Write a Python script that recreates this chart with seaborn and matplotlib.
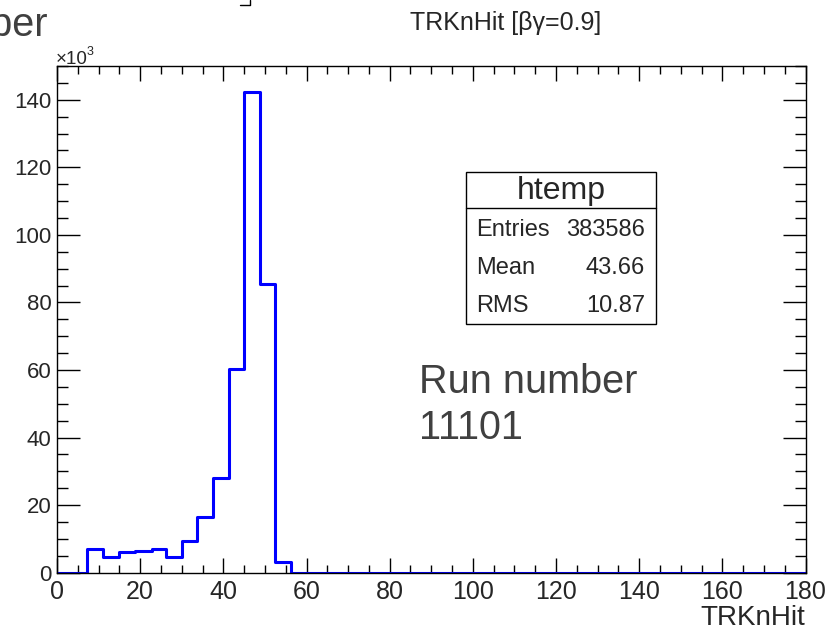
import numpy as np
import pandas as pd
import seaborn as sns
import matplotlib
matplotlib.use("Agg")
import matplotlib.pyplot as plt
from matplotlib.patches import Rectangle
from matplotlib.lines import Line2D
from matplotlib.ticker import MultipleLocator

# TRKnHit histogram (counts in thousands of entries per bin)
bin_edges = [0.0, 7.15, 11.1, 15.0, 18.8, 22.8, 26.1, 30.0, 33.7, 37.4, 41.3,
             44.9, 48.75, 52.5, 56.2, 180.0]
counts_k = [0.0, 7.0, 4.5, 6.1, 6.5, 7.0, 4.5, 9.3, 16.5, 28.1, 60.4,
            142.4, 85.5, 3.2, 0.0]

hist_name = "htemp"
stat_labels = ["Entries", "Mean", "RMS"]
stat_values = ["383586", "43.66", "10.87"]

x_ticks = [0, 20, 40, 60, 80, 100, 120, 140, 160, 180]
y_ticks = [0, 20, 40, 60, 80, 100, 120, 140]

W, H = 839, 630
sns.set_theme(style="white")
plt.rcParams["font.family"] = ["Liberation Sans", "DejaVu Sans"]

fig = plt.figure(figsize=(W / 100, H / 100), dpi=100)
fig.patch.set_facecolor("white")


def fx(px):
    return px / W


def fy(py):
    return 1 - py / H


ax = fig.add_axes([fx(57), fy(572.7), fx(805.5) - fx(57), (572.7 - 66) / H])
ax.set_facecolor("white")

centers = [0.5 * (a + b) for a, b in zip(bin_edges[:-1], bin_edges[1:])]
df = pd.DataFrame({"TRKnHit": centers, "w": counts_k})
sns.histplot(data=df, x="TRKnHit", weights="w", bins=list(bin_edges),
             element="step", fill=False, color="#0000ff", linewidth=2.2,
             ax=ax)

ax.set_xlim(0, 180)
ax.set_ylim(0, 150)
ax.set_xlabel("")
ax.set_ylabel("")
ax.set_xticks(x_ticks)
ax.set_yticks(y_ticks)
ax.xaxis.set_minor_locator(MultipleLocator(5))
ax.yaxis.set_minor_locator(MultipleLocator(5))
ax.tick_params(axis="x", which="major", direction="in", length=11, width=1,
               top=True, bottom=True, labelsize=18, pad=5, color="black")
ax.tick_params(axis="x", which="minor", direction="in", length=5.5, width=1,
               top=True, bottom=True, color="black")
ax.tick_params(axis="y", which="major", direction="in", length=16.5, width=1,
               left=True, right=True, labelsize=16, pad=4, color="black")
ax.tick_params(axis="y", which="minor", direction="in", length=8, width=1,
               left=True, right=True, color="black")
for s in ax.spines.values():
    s.set_visible(True)
    s.set_color("black")
    s.set_linewidth(1.0)

# exponent marker for the y axis
fig.text(fx(56), fy(64), "×10", fontsize=13.5, ha="left", va="baseline")
fig.text(fx(86.5), fy(55), "3", fontsize=9, ha="left", va="baseline")

# title
fig.text(fx(506), fy(23), "TRKnHit [βγ=0.9]", fontsize=18, ha="center",
         va="center")

# x axis title
fig.text(fx(805), fy(625), "TRKnHit", fontsize=20, ha="right", va="baseline")

# statistics box
box_l, box_r, box_t, box_b, head_b = 466, 656, 172, 324, 208
fig.patches.append(Rectangle((fx(box_l), fy(box_b)), fx(box_r) - fx(box_l),
                             fy(box_t) - fy(box_b), transform=fig.transFigure,
                             facecolor="white", edgecolor="black",
                             linewidth=1.0))
fig.lines.append(Line2D([fx(box_l), fx(box_r)], [fy(head_b), fy(head_b)],
                        transform=fig.transFigure, color="black",
                        linewidth=1.0))
fig.text(fx((box_l + box_r) / 2), fy(191), hist_name, fontsize=23,
         ha="center", va="center")
for i, (lab, val) in enumerate(zip(stat_labels, stat_values)):
    yy = fy(230 + 38 * i)
    fig.text(fx(476), yy, lab, fontsize=17, ha="left", va="center")
    fig.text(fx(645), yy, val, fontsize=17, ha="right", va="center")

# run annotation
fig.text(fx(419), fy(393), "Run number", fontsize=28.5, color="#404040",
         ha="left", va="baseline")
fig.text(fx(419), fy(439), "11101", fontsize=28.5, color="#404040",
         ha="left", va="baseline")

# heading partly outside the canvas
fig.text(fx(48), fy(36), "number", fontsize=28.5, color="#404040",
         ha="right", va="baseline")

# small corner mark at the top edge
fig.lines.append(Line2D([fx(240), fx(250), fx(250)], [fy(5), fy(5), fy(0)],
                        transform=fig.transFigure, color="black",
                        linewidth=1.0))

fig.savefig("out.png", dpi=100, facecolor="white")
